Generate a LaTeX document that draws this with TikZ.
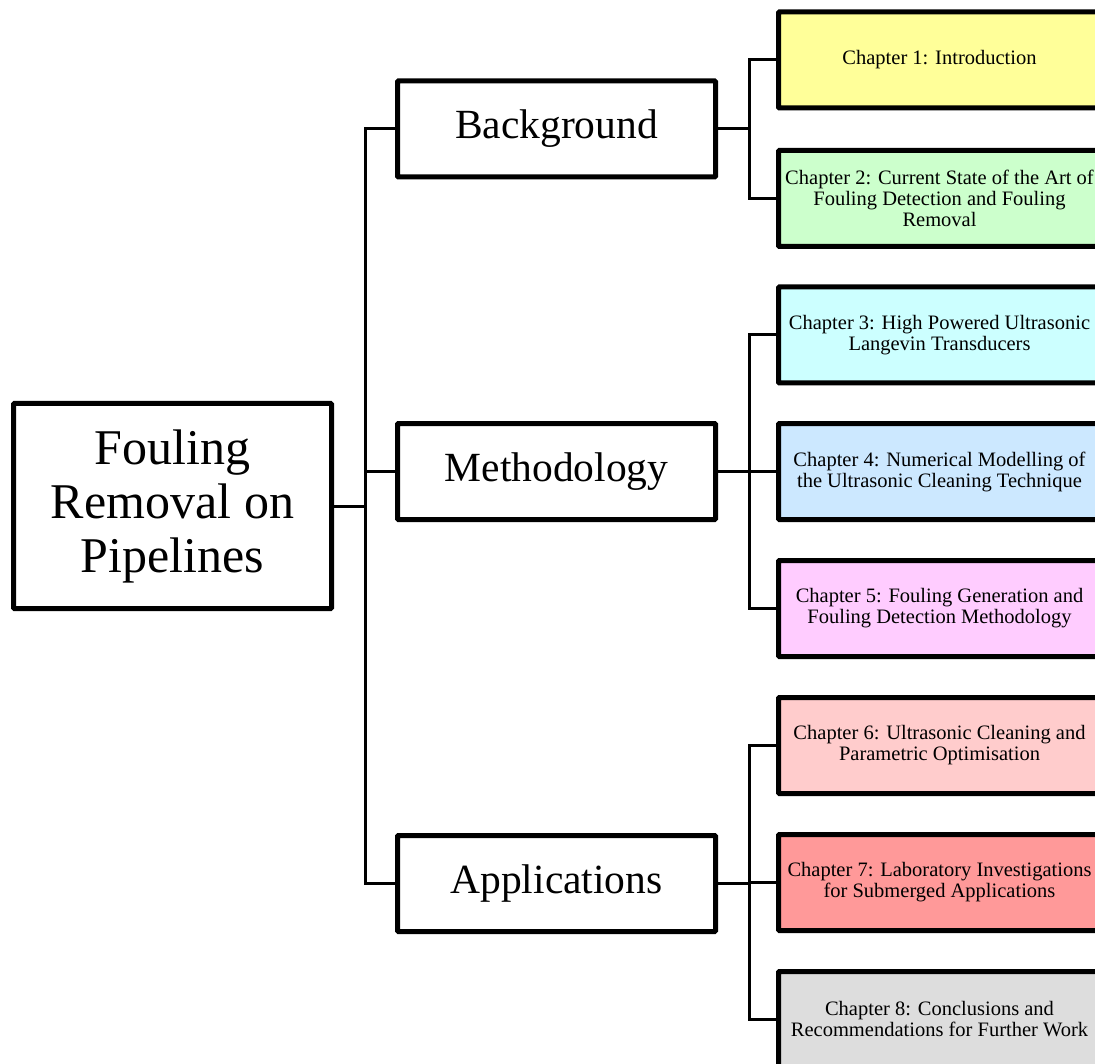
\documentclass[tikz,border=0pt]{standalone}
\usepackage{fontspec}
\setmainfont{Liberation Serif}
% chapter fills
\definecolor{chA}{HTML}{FFFF99}
\definecolor{chB}{HTML}{CCFFCC}
\definecolor{chC}{HTML}{CCFFFF}
\definecolor{chD}{HTML}{CCE8FF}
\definecolor{chE}{HTML}{FFCCFF}
\definecolor{chF}{HTML}{FFCCCC}
\definecolor{chG}{HTML}{FF9999}
\definecolor{chH}{HTML}{DDDDDD}
\begin{document}
\begin{tikzpicture}[x=1pt,y=-1pt,
  box/.style={draw=black, line width=5pt, rounded corners=1pt, minimum width=318pt,
    minimum height=96pt, inner sep=1pt, align=center, fill=white},
  chap/.style={box, minimum width=322pt, font=\fontsize{20.5}{21}\selectfont},
  mid/.style={box, font=\fontsize{41.5}{48}\selectfont},
  link/.style={line width=3pt, line join=miter}]
\useasboundingbox (0,0) rectangle (1095,1064);
\clip (0,0) rectangle (1095,1064);

% root
\node[box, minimum height=205pt, font=\fontsize{50}{54}\selectfont] (root) at (172.5,506)
  {Fouling\\Removal on\\Pipelines};

% second level
\node[mid] (bg) at (556.5,129) {Background};
\node[mid] (me) at (556.5,471.5) {Methodology};
\node[mid] (ap) at (556.5,883.5) {Applications};

% chapters
\node[chap, fill=chA] (c1) at (939.5,60) {Chapter 1: Introduction};
\node[chap, fill=chB] (c2) at (939.5,198.5) {Chapter 2: Current State of the Art of\\Fouling Detection and Fouling\\Removal};
\node[chap, fill=chC] (c3) at (939.5,335) {Chapter 3: High Powered Ultrasonic\\Langevin Transducers};
\node[chap, fill=chD] (c4) at (939.5,471.5) {Chapter 4: Numerical Modelling of\\the Ultrasonic Cleaning Technique};
\node[chap, fill=chE] (c5) at (939.5,608.5) {Chapter 5: Fouling Generation and\\Fouling Detection Methodology};
\node[chap, fill=chF] (c6) at (939.5,745.5) {Chapter 6: Ultrasonic Cleaning and\\Parametric Optimisation};
\node[chap, fill=chG] (c7) at (939.5,882.5) {Chapter 7: Laboratory Investigations\\for Submerged Applications};
\node[chap, fill=chH] (c8) at (939.5,1019.5) {Chapter 8: Conclusions and\\Recommendations for Further Work};

% connectors
\foreach \t in {bg,me,ap}
  \draw[link] (root.east) -- ++(31,0) |- (\t.west);
\foreach \t in {c1,c2}
  \draw[link] (bg.east) -- ++(31,0) |- (\t.west);
\foreach \t in {c3,c4,c5}
  \draw[link] (me.east) -- ++(31,0) |- (\t.west);
\foreach \t in {c6,c7,c8}
  \draw[link] (ap.east) -- ++(31,0) |- (\t.west);
\end{tikzpicture}
\end{document}
